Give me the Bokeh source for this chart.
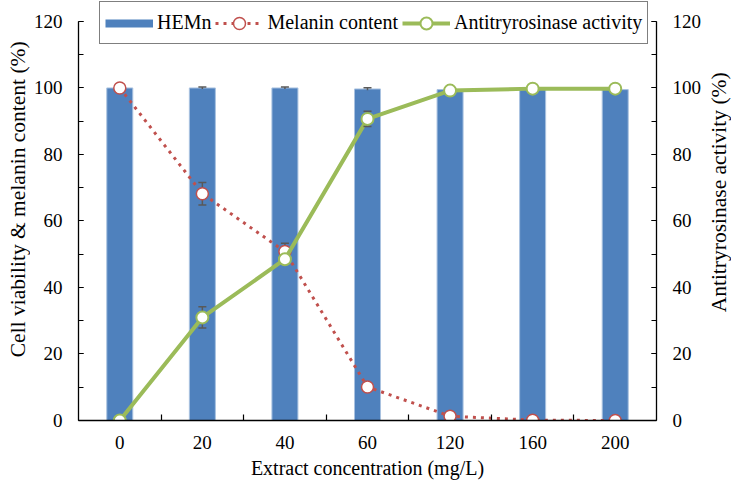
import math
from bokeh.plotting import figure
from bokeh.layouts import row
from bokeh.models import (Range1d, LinearAxis, FixedTicker, SingleIntervalTicker,
                          ColumnDataSource, Legend, LegendItem, Label)
from bokeh.embed import file_html
from bokeh.resources import INLINE

# ---- data ----
categories = ["0", "20", "40", "60", "120", "160", "200"]
hemn = [100, 100, 100, 99.7, 99.5, 99.5, 99.5]
hemn_err = [0.2, 0.3, 0.3, 0.4, 0.2, 0.2, 0.2]
melanin = [100, 68.2, 50.8, 10.1, 1.3, 0.1, 0.0]
melanin_err = [0.3, 3.4, 2.5, 0.5, 0.3, 0.1, 0.1]
antityr = [0.0, 31.0, 48.5, 90.7, 99.2, 99.8, 99.8]
antityr_err = [0.2, 3.2, 1.0, 2.3, 0.3, 0.2, 0.2]
y_ticks_max = 120

left_title = "Cell viability & melanin content (%)"
right_title = "Antitryrosinase activity (%)"
x_title = "Extract concentration (mg/L)"

FONT = "Liberation Serif"
BLUE = "#4F81BD"
RED = "#C0504D"
GREEN = "#9BBB59"
ERR = "#595959"

H = 483
LEFT_W = 30
RIGHT_W = 27
MAIN_W = 731 - LEFT_W - RIGHT_W

xs = list(range(len(categories)))
src = ColumnDataSource(dict(
    x=xs,
    hemn=hemn,
    hemn_lo=[v - e for v, e in zip(hemn, hemn_err)],
    hemn_hi=[v + e for v, e in zip(hemn, hemn_err)],
    mel=melanin,
    mel_lo=[v - e for v, e in zip(melanin, melanin_err)],
    mel_hi=[v + e for v, e in zip(melanin, melanin_err)],
    ant=antityr,
    ant_lo=[v - e for v, e in zip(antityr, antityr_err)],
    ant_hi=[v + e for v, e in zip(antityr, antityr_err)],
))

# frame extends a little above 120 so the legend can overlap the top; axis lines stop at 120
Y_END = 126.0
p = figure(width=MAIN_W, height=H, output_backend="svg", toolbar_location=None,
           x_range=Range1d(-0.5, len(categories) - 0.5), y_range=Range1d(0, Y_END),
           min_border_left=47, min_border_right=47, min_border_top=1, min_border_bottom=63)
p.extra_y_ranges = {"right": Range1d(0, Y_END)}
p.outline_line_color = None
p.grid.visible = False
p.background_fill_color = "white"

# x axis
xa = p.xaxis[0]
xa.ticker = FixedTicker(ticks=xs, minor_ticks=[i + 0.5 for i in xs[:-1]])
xa.major_label_overrides = {i: c for i, c in zip(xs, categories)}
xa.major_tick_in = 0
xa.major_tick_out = 0
xa.minor_tick_in = 6
xa.minor_tick_out = 0
xa.axis_label = x_title
xa.axis_label_standoff = 5
xa.major_label_standoff = 15

# left y axis
ya = p.yaxis[0]
ya.ticker = SingleIntervalTicker(interval=20, num_minor_ticks=2)
ya.bounds = (0, y_ticks_max)
ya.major_label_standoff = 16

# right y axis
ra = LinearAxis(y_range_name="right", ticker=SingleIntervalTicker(interval=20, num_minor_ticks=2))
ra.bounds = (0, y_ticks_max)
ra.major_label_standoff = 16
p.add_layout(ra, "right")

for ax in [xa, ya, ra]:
    ax.axis_line_color = "black"
    ax.axis_line_width = 1.3
    ax.major_tick_line_color = "black"
    ax.minor_tick_line_color = "black"
    ax.major_tick_line_width = 1.2
    ax.minor_tick_line_width = 1.2
    ax.major_label_text_font = FONT
    ax.major_label_text_font_size = "19px"
    ax.major_label_text_color = "black"
    ax.axis_label_text_font = FONT
    ax.axis_label_text_font_size = "20px"
    ax.axis_label_text_font_style = "normal"
    ax.axis_label_text_color = "black"
for ax in [ya, ra]:
    ax.major_tick_in = 5
    ax.major_tick_out = 0
    ax.minor_tick_in = 5
    ax.minor_tick_out = 0

# bars
bars = p.vbar(x="x", top="hemn", width=0.315, source=src, fill_color=BLUE,
              line_color="#A9C2E0", line_width=1)
p.segment(x0="x", y0="hemn_lo", x1="x", y1="hemn_hi", source=src, line_color=ERR, line_width=1.5)
p.scatter(x="x", y="hemn_hi", marker="dash", size=8, source=src, line_color=ERR, line_width=1.5)
# legend swatch for the bars (thin band, like the reference key); hidden in the plot itself
hemn_key = p.line(x="x", y="hemn", source=src, line_color=BLUE, line_width=8, visible=False)

# melanin content
mel_line = p.line(x="x", y="mel", source=src, line_color=RED, line_width=3, line_dash="3 5")
p.segment(x0="x", y0="mel_lo", x1="x", y1="mel_hi", source=src, line_color=ERR, line_width=1.5)
p.scatter(x="x", y="mel_hi", marker="dash", size=8, source=src, line_color=ERR, line_width=1.5)
p.scatter(x="x", y="mel_lo", marker="dash", size=8, source=src, line_color=ERR, line_width=1.5)
mel_pts = p.scatter(x="x", y="mel", source=src, marker="circle", size=12,
                    fill_color="white", line_color=RED, line_width=1.5)

# antityrosinase activity
ant_line = p.line(x="x", y="ant", source=src, line_color=GREEN, line_width=4, y_range_name="right")
p.segment(x0="x", y0="ant_lo", x1="x", y1="ant_hi", source=src, line_color=ERR, line_width=1.5,
          y_range_name="right")
p.scatter(x="x", y="ant_hi", marker="dash", size=8, source=src, line_color=ERR, line_width=1.5,
          y_range_name="right")
p.scatter(x="x", y="ant_lo", marker="dash", size=8, source=src, line_color=ERR, line_width=1.5,
          y_range_name="right")
ant_pts = p.scatter(x="x", y="ant", source=src, marker="circle", size=12, fill_color="white",
                    line_color=GREEN, line_width=2, y_range_name="right")

legend = Legend(items=[
    LegendItem(label="HEMn", renderers=[hemn_key]),
    LegendItem(label="Melanin content", renderers=[mel_line, mel_pts]),
    LegendItem(label="Antitryrosinase activity", renderers=[ant_line, ant_pts]),
], orientation="horizontal", location=(21, 376))
legend.label_text_font = FONT
legend.label_text_font_size = "20px"
legend.label_text_color = "black"
legend.label_height = 31
legend.glyph_width = 48
legend.glyph_height = 30
legend.label_standoff = 4
legend.spacing = 4
legend.padding = 5
legend.margin = 0
legend.border_line_color = "black"
legend.border_line_width = 1.3
legend.background_fill_color = "white"
legend.background_fill_alpha = 1
legend.inactive_fill_alpha = 0
p.add_layout(legend, "center")


# narrow side strips carrying the rotated (bottom-to-top) axis titles
def title_strip(width, text, cx, cy_from_top):
    f = figure(width=width, height=H, output_backend="svg", toolbar_location=None,
               x_range=Range1d(0, width), y_range=Range1d(0, H),
               x_axis_location=None, y_axis_location=None, min_border=0)
    f.outline_line_color = None
    f.grid.visible = False
    f.add_layout(Label(x=cx, y=H - cy_from_top, text=text, angle=math.pi / 2,
                       text_align="center", text_baseline="middle", text_font=FONT,
                       text_font_size="21.5px", text_color="black"))
    return f


left = title_strip(LEFT_W, left_title, 17, 228)
right = title_strip(RIGHT_W, right_title, 14, 220)

layout = row(left, p, right, spacing=0)
open("out.html", "w").write(file_html(layout, INLINE))
